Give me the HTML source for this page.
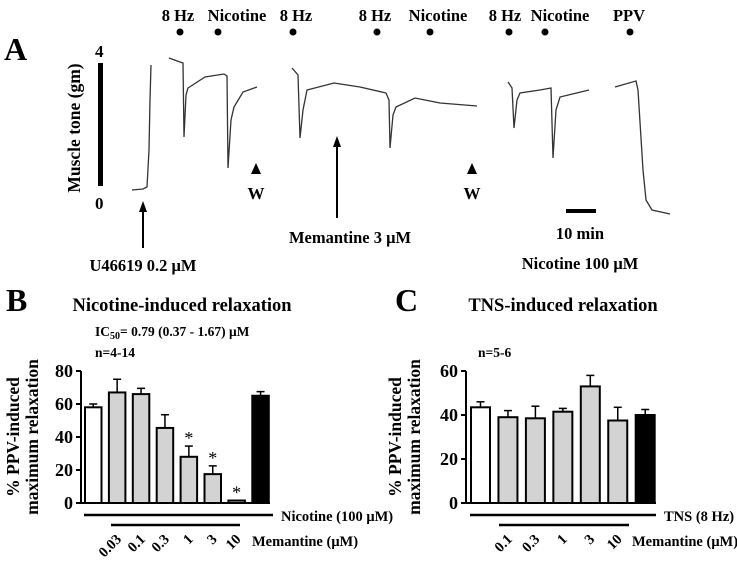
<!DOCTYPE html>
<html><head><meta charset="utf-8">
<style>
html,body{margin:0;padding:0;background:#fff;}
svg{display:block;font-family:"Liberation Serif",serif;font-weight:bold;}
</style></head>
<body>
<svg id="fig" width="737" height="565" viewBox="0 0 737 565" xmlns="http://www.w3.org/2000/svg">
<!-- Panel A -->
<g id="panelA">
<text x="4" y="60" font-size="32">A</text>
<rect x="98" y="63" width="5" height="123" fill="#000"/>
<text x="95" y="57" font-size="17">4</text>
<text x="95" y="209" font-size="17">0</text>
<text transform="translate(80,128) rotate(-90)" text-anchor="middle" font-size="17.5">Muscle tone (gm)</text>
<g id="events" font-size="16.5" text-anchor="middle"></g>
<g id="traces" fill="none" stroke="#333" stroke-width="1.3"></g>
<line x1="143" y1="248" x2="143" y2="210" stroke="#000" stroke-width="2"/>
<polygon points="143,201 139,212 147,212" fill="#000"/>
<text x="143" y="271" font-size="16.5" text-anchor="middle">U46619 0.2 μM</text>
<line x1="337" y1="218" x2="337" y2="145" stroke="#000" stroke-width="2"/>
<polygon points="337,136 333,147 341,147" fill="#000"/>
<text x="350" y="243" font-size="16.5" text-anchor="middle">Memantine 3 μM</text>
<polygon points="256,163 251,174 261,174" fill="#000"/>
<text x="256" y="199" font-size="17" text-anchor="middle">W</text>
<polygon points="472,163 467,174 477,174" fill="#000"/>
<text x="472" y="199" font-size="17" text-anchor="middle">W</text>
<rect x="566" y="209" width="30" height="4" fill="#000"/>
<text x="580" y="239" font-size="16.5" text-anchor="middle">10 min</text>
<text x="580" y="269" font-size="16.5" text-anchor="middle">Nicotine 100 μM</text>
</g>
<!-- Panel B -->
<text x="6" y="311" font-size="32">B</text>
<text x="182" y="311" font-size="18.5" text-anchor="middle">Nicotine-induced relaxation</text>
<text x="95" y="336" font-size="13.5">IC<tspan font-size="10" dy="3">50</tspan><tspan dy="-3">= 0.79 (0.37 - 1.67) μM</tspan></text>
<text x="95" y="357" font-size="13.5">n=4-14</text>
<text transform="translate(28,437) rotate(-90)" text-anchor="middle" font-size="17.5"><tspan x="0" dy="-9">% PPV-induced</tspan><tspan x="0" dy="19">maximum relaxation</tspan></text>
<g id="chartB"></g>
<!-- Panel C -->
<text x="395" y="311" font-size="32">C</text>
<text x="563" y="311" font-size="18.5" text-anchor="middle">TNS-induced relaxation</text>
<text x="478" y="357" font-size="13.5">n=5-6</text>
<text transform="translate(410,437) rotate(-90)" text-anchor="middle" font-size="17.5"><tspan x="0" dy="-9">% PPV-induced</tspan><tspan x="0" dy="19">maximum relaxation</tspan></text>
<g id="chartC"></g>
</svg>
<script>
const NS="http://www.w3.org/2000/svg";
// Panel A events
const eventLabels=["8 Hz","Nicotine","8 Hz","8 Hz","Nicotine","8 Hz","Nicotine","PPV"];
const eventLabelX=[178,237,296,375,438,505,560,629];
const eventDotX=[180,218,293,377,430,509,545,630];
// Trace segments (time x, tone y in px from reference)
const traceSegments=[
 [[132,190],[143,189],[147,187],[149,150],[150,100],[151,65]],
 [[169,58],[180,62],[183,63],[184,137],[186,95],[188,88],[205,77],[224,74],[227,76],[228,168],[231,120],[234,107],[243,92],[257,87]],
 [[292,68],[298,75],[300,138],[303,110],[307,90],[334,83],[360,87],[386,93],[389,100],[390,148],[393,115],[396,107],[415,98],[440,103],[477,106]],
 [[508,82],[512,88],[514,128],[517,100],[520,93],[540,90],[551,88],[553,158],[556,110],[560,97],[589,90]],
 [[615,87],[636,81],[638,90],[643,170],[646,200],[652,210],[670,214]]
];
function mk(tag,attrs,parent){const e=document.createElementNS(NS,tag);for(const k in attrs)e.setAttribute(k,attrs[k]);parent.appendChild(e);return e;}
const ev=document.getElementById('events');
eventLabels.forEach((l,i)=>{
 const t=mk('text',{x:eventLabelX[i],y:21},ev);t.textContent=l;
 
 
 const c=mk('circle',{cx:eventDotX[i],cy:32,r:3.5,fill:'#000'},ev);
 
 
});
const tr=document.getElementById('traces');
traceSegments.forEach(seg=>{
 const p=mk('polyline',{points:seg.map(q=>q.join(',')).join(' ')},tr);
 
 
});

// Panel B data
const bCategories=["Nicotine","0.03","0.1","0.3","1","3","10","Nic+"];
const bValues=[58,67,66,45.5,28,17.5,1.5,65];
const bErrors=[2,8,3.5,8,6.5,5,0,2.5];
const bStars=[0,0,0,0,1,1,1,0];
const bFills=["#fff","#d3d3d3","#d3d3d3","#d3d3d3","#d3d3d3","#d3d3d3","#d3d3d3","#000"];
const bTicks=[0,20,40,60,80];
const bMemLabels=["0.03","0.1","0.3","1","3","10"];
// Panel C data
const cCategories=["TNS","0.1","0.3","1","3","10","TNS+"];
const cValues=[43.5,39,38.5,41.5,53,37.5,40];
const cErrors=[2.5,3,5.5,1.5,5,6,2.5];
const cFills=["#fff","#d3d3d3","#d3d3d3","#d3d3d3","#d3d3d3","#d3d3d3","#000"];
const cTicks=[0,20,40,60];
const cMemLabels=["0.1","0.3","1","3","10"];

function drawChart(g,cfg){
 const y=v=>cfg.y0-(v/cfg.ymax)*(cfg.y0-cfg.ytop);
 const x=i=>cfg.x0+i*cfg.step;
 const ax=mk('line',{x1:cfg.ax,y1:cfg.ytop,x2:cfg.ax,y2:cfg.y0,stroke:'#000','stroke-width':2},g);
 
 
 const bx=mk('line',{x1:cfg.ax,y1:cfg.y0,x2:cfg.xend,y2:cfg.y0,stroke:'#000','stroke-width':2},g);
 
 
 cfg.ticks.forEach(t=>{
  const tk=mk('line',{x1:cfg.ax-5,y1:y(t),x2:cfg.ax,y2:y(t),stroke:'#000','stroke-width':2},g);
  
  
  const tl=mk('text',{x:cfg.ax-8,y:y(t)+6,'font-size':18,'text-anchor':'end'},g);tl.textContent=t;
  
  
 });
 cfg.values.forEach((v,i)=>{
  const top=y(v+cfg.errors[i]);
  if(cfg.errors[i]>0){
   const el=mk('line',{x1:x(i)+cfg.w/2,y1:y(v),x2:x(i)+cfg.w/2,y2:top,stroke:'#000','stroke-width':1.5},g);
   
   
   const cap=mk('line',{x1:x(i)+cfg.w/2-4,y1:top,x2:x(i)+cfg.w/2+4,y2:top,stroke:'#000','stroke-width':1.5},g);
   
   
  }
  const r=mk('rect',{x:x(i),y:y(v),width:cfg.w,height:Math.max(cfg.y0-y(v),1),fill:cfg.fills[i],stroke:'#000','stroke-width':2},g);
  
  
  if(cfg.stars&&cfg.stars[i]){
   const s=mk('text',{x:x(i)+cfg.w/2,y:top-2,'font-size':18,'text-anchor':'middle','font-weight':'normal'},g);s.textContent='*';
   
   
  }
 });
 const l1=mk('line',{x1:cfg.l1[0],y1:515,x2:cfg.l1[1],y2:515,stroke:'#000','stroke-width':2.5},g);
 
 
 const t1=mk('text',{x:cfg.l1[1]+8,y:521,'font-size':14.5},g);t1.textContent=cfg.l1label;
 
 
 const l2=mk('line',{x1:cfg.l2[0],y1:525,x2:cfg.l2[1],y2:525,stroke:'#000','stroke-width':2.5},g);
 
 
 cfg.memLabels.forEach((m,j)=>{
  const cx=x(j+1)+cfg.w/2;
  const t=mk('text',{transform:`translate(${cx+5},540) rotate(-45)`,'font-size':14.5,'text-anchor':'end'},g);t.textContent=m;
  
  
 });
 const t2=mk('text',{x:cfg.memX,y:546,'font-size':14.5},g);t2.textContent='Memantine (μM)';
 
 
}
drawChart(document.getElementById('chartB'),{cats:bCategories,values:bValues,errors:bErrors,stars:bStars,fills:bFills,ticks:bTicks,memLabels:bMemLabels,
 ymax:80,y0:503,ytop:371,ax:81,xend:270,x0:85,step:23.9,w:16.5,l1:[84,273],l1label:'Nicotine (100 μM)',l2:[111,240],memX:252});
drawChart(document.getElementById('chartC'),{cats:cCategories,values:cValues,errors:cErrors,fills:cFills,ticks:cTicks,memLabels:cMemLabels,
 ymax:60,y0:503,ytop:371,ax:466,xend:656,x0:471,step:27.45,w:19,l1:[470,656],l1label:'TNS (8 Hz)',l2:[499,629],memX:632});
</script>
</body></html>
